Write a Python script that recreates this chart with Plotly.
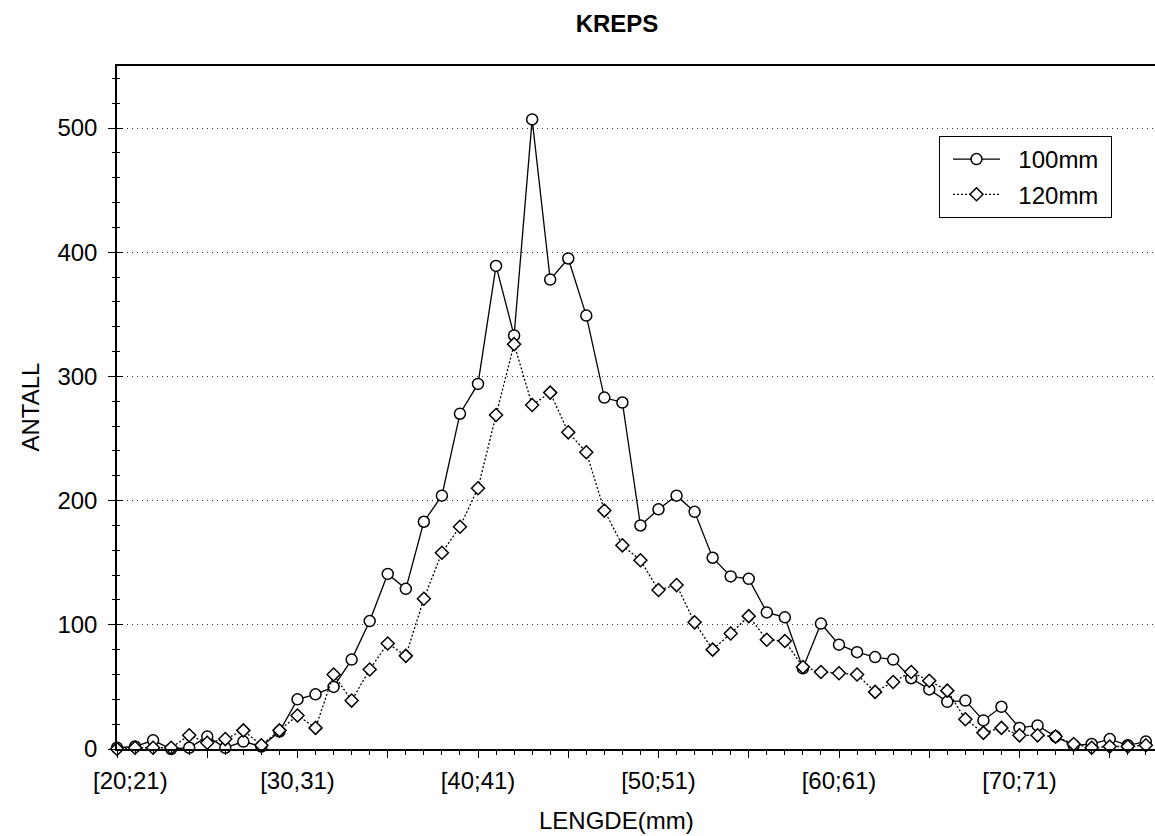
import plotly.graph_objects as go

# Length classes: lower bound (mm) of each [L;L+1) class
lengths = list(range(20, 78))

# Number of shrimp per length class, by mesh size
count_100mm = [1, 2, 7, 0, 1, 10, 1, 6, 2, 14,
               40, 44, 50, 72, 103, 141, 129, 183, 204, 270,
               294, 389, 333, 507, 378, 395, 349, 283, 279, 180,
               193, 204, 191, 154, 139, 137, 110, 106, 65, 101,
               84, 78, 74, 72, 57, 48, 38, 39, 23, 34,
               17, 19, 10, 3, 4, 8, 3, 6]
count_120mm = [0, 1, 1, 1, 11, 5, 8, 15, 3, 15,
               27, 17, 60, 39, 64, 85, 75, 121, 158, 179,
               210, 269, 326, 277, 287, 255, 239, 192, 164, 152,
               128, 132, 102, 80, 93, 107, 88, 87, 66, 62,
               61, 60, 46, 54, 62, 55, 47, 24, 13, 17,
               11, 11, 10, 4, 1, 2, 2, 3]

# Labelled length classes on the x axis
tick_positions = [20, 30, 40, 50, 60, 70]
tick_labels = ["[20;21)", "[30,31)", "[40;41)", "[50;51)", "[60;61)", "[70;71)"]
y_ticks = [0, 100, 200, 300, 400, 500]
series_names = ["100mm", "120mm"]

FONT = "Liberation Sans, Arial, Helvetica, sans-serif"
W, H = 1155, 836
L, R, T, B = 117, 0, 66, 87
NBSP = "\u00a0"

# major ticks every 5 mm, labels every 10 mm; the first label is nudged
# right so it clears the y axis
label_map = dict(zip(tick_positions, tick_labels))
major_x = list(range(20, 80, 5))
major_text = []
for v in major_x:
    t = label_map.get(v, "")
    if v == tick_positions[0]:
        t = NBSP * 4 + t
    major_text.append(t)


def legend_name(n):
    return NBSP * 2 + n + NBSP


fig = go.Figure()

fig.add_trace(go.Scatter(
    x=lengths, y=count_100mm, name=legend_name(series_names[0]),
    legendgroup="a", mode="lines+markers", cliponaxis=False,
    line=dict(color="black", width=1.3),
    marker=dict(symbol="circle", size=11, color="white",
                line=dict(color="black", width=1.5)),
))
fig.add_trace(go.Scatter(
    x=lengths, y=count_120mm, name=legend_name(series_names[1]),
    legendgroup="b", mode="lines+markers", cliponaxis=False,
    line=dict(color="black", width=1.3, dash="2px,2px"),
    marker=dict(symbol="diamond", size=10, color="white",
                line=dict(color="black", width=1.5)),
))
# empty trace so the inner-tick axis is drawn
fig.add_trace(go.Scatter(x=[None], y=[None], yaxis="y2", showlegend=False,
                         hoverinfo="skip"))

x_range = [20, 20 + (W - L - R) / 18.05]
y_range = [0, 550]

fig.update_layout(
    width=W, height=H,
    margin=dict(l=L, r=R, t=T, b=B, pad=0),
    paper_bgcolor="white", plot_bgcolor="white",
    font=dict(family=FONT, size=24, color="black"),
    hovermode=False,
    title=dict(text="<b>KREPS</b>", x=617 / W, xanchor="center",
               y=1 - 24 / H, yanchor="middle", yref="container",
               font=dict(family=FONT, size=24, color="black")),
    xaxis=dict(
        range=x_range, showgrid=False, zeroline=False,
        showline=True, linecolor="black", linewidth=1.5, mirror=True,
        tickmode="array", tickvals=major_x, ticktext=major_text,
        ticks="outside", ticklen=7, tickwidth=1, tickcolor="black",
        ticklabelstandoff=2,
        minor=dict(dtick=1, tick0=20, ticks="outside", ticklen=4,
                   tickwidth=1, tickcolor="black", showgrid=False),
    ),
    yaxis=dict(
        range=y_range, zeroline=False,
        showline=True, linecolor="black", linewidth=1.5,
        showgrid=True, gridcolor="#333", gridwidth=1, griddash="1px,4px",
        tickmode="array", tickvals=y_ticks,
        ticks="outside", ticklen=7, tickwidth=1, tickcolor="black",
        ticklabelstandoff=6,
        minor=dict(dtick=20, tick0=0, ticks="outside", ticklen=3,
                   tickwidth=1, tickcolor="black", showgrid=False),
    ),
    yaxis2=dict(
        range=y_range, overlaying="y", side="left", anchor="x",
        showgrid=False, zeroline=False, showline=False,
        showticklabels=False,
        tickmode="array", tickvals=y_ticks,
        ticks="inside", ticklen=6, tickwidth=1, tickcolor="black",
        minor=dict(dtick=20, tick0=0, ticks="inside", ticklen=3,
                   tickwidth=1, tickcolor="black", showgrid=False),
    ),
    legend=dict(
        x=(939 - L) / (W - L - R), y=(H - B - 136) / (H - T - B),
        xanchor="left", yanchor="top",
        bgcolor="white", bordercolor="black", borderwidth=1,
        font=dict(family=FONT, size=24, color="black"),
        itemwidth=47, indentation=8, tracegroupgap=1,
        traceorder="grouped",
    ),
    annotations=[
        dict(text="LENGDE(mm)", xref="paper", yref="paper",
             x=(616 - L) / (W - L - R), y=(H - B - 820) / (H - T - B),
             xanchor="center", yanchor="middle", showarrow=False,
             font=dict(family=FONT, size=24, color="black")),
        dict(text="ANTALL", xref="paper", yref="paper", textangle=-90,
             x=(30 - L) / (W - L - R), y=0.5,
             xanchor="center", yanchor="middle", showarrow=False,
             font=dict(family=FONT, size=24, color="black")),
    ],
)

fig.write_html("out.html")
